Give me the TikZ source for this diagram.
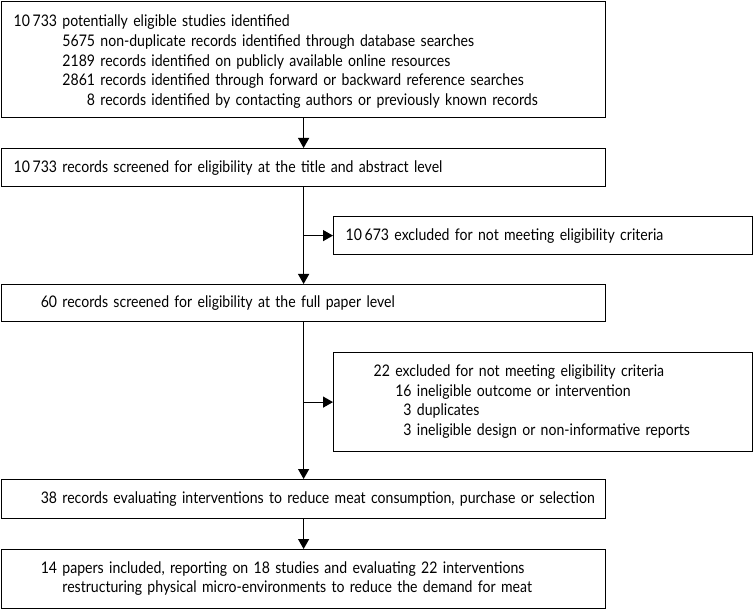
\documentclass[tikz,border=0pt]{standalone}
\usepackage{fontspec}
\setmainfont[FakeStretch=0.88]{Lato}
\usetikzlibrary{arrows.meta}
\newcommand{\fsz}{\fontsize{16}{19.7}\selectfont}
\begin{document}
\begin{tikzpicture}[x=1pt,y=-1pt,
  box/.style={draw, line width=1.2pt, rectangle, inner xsep=12pt, inner ysep=0pt,
              anchor=north west, align=left, font=\fsz},
  arr/.style={line width=1.2pt, -{Triangle[length=10pt,width=11pt]}}]
\useasboundingbox (0,0) rectangle (754,609);
\node[box, text width=580pt, minimum height=116pt] (b1) at (1,1) {%
\raisebox{-2.5pt}[\height][\depth]{%
\begin{tabular}{@{}r@{\ }r@{\ }l@{}}
\multicolumn{3}{@{}l@{}}{10\,733 potentially eligible studies identified}\\
\phantom{10\,733} & 5675 & non-duplicate records identified through database searches\\
 & 2189 & records identified on publicly available online resources\\
 & 2861 & records identified through forward or backward reference searches\\
 & 8 & records identified by contacting authors or previously known records
\end{tabular}}};
\node[box, text width=580pt, minimum height=38pt] (b2) at (1,148)
  {10\,733 records screened for eligibility at the title and abstract level};
\node[box, text width=395pt, minimum height=38pt] (bA) at (333,216)
  {10\,673 excluded for not meeting eligibility criteria};
\node[box, text width=580pt, minimum height=37pt] (b3) at (1,284)
  {\phantom{10\,7}60 records screened for eligibility at the full paper level};
\node[box, inner xsep=40pt, text width=339pt, minimum height=99pt] (bB) at (333,352) {%
\begin{tabular}{@{}r@{\ }r@{\ }l@{}}
\multicolumn{3}{@{}l@{}}{22 excluded for not meeting eligibility criteria}\\
\phantom{22} & 16 & ineligible outcome or intervention\\
 & 3 & duplicates\\
 & 3 & ineligible design or non-informative reports
\end{tabular}};
\node[box, text width=580pt, minimum height=39pt] (b5) at (1,479)
  {\mbox{\phantom{10\,7}38 records evaluating interventions to reduce meat consumption, purchase or selection}};
\node[box, text width=580pt, minimum height=59pt] (b6) at (1,549) {%
\begin{tabular}{@{}l@{}}
\phantom{10\,7}14 papers included, reporting on 18 studies and evaluating 22 interventions\\
\phantom{10\,733\ }restructuring physical micro-environments to reduce the demand for meat
\end{tabular}};
\draw[arr] (b1.south) -- (b2.north);
\draw[arr] (b2.south) -- (b3.north);
\draw[arr] (b2.south |- bA.west) -- (bA.west);
\draw[arr] (b3.south) -- (b5.north);
\draw[arr] (b3.south |- bB.west) -- (bB.west);
\draw[arr] (b5.south) -- (b6.north);
\end{tikzpicture}
\end{document}
